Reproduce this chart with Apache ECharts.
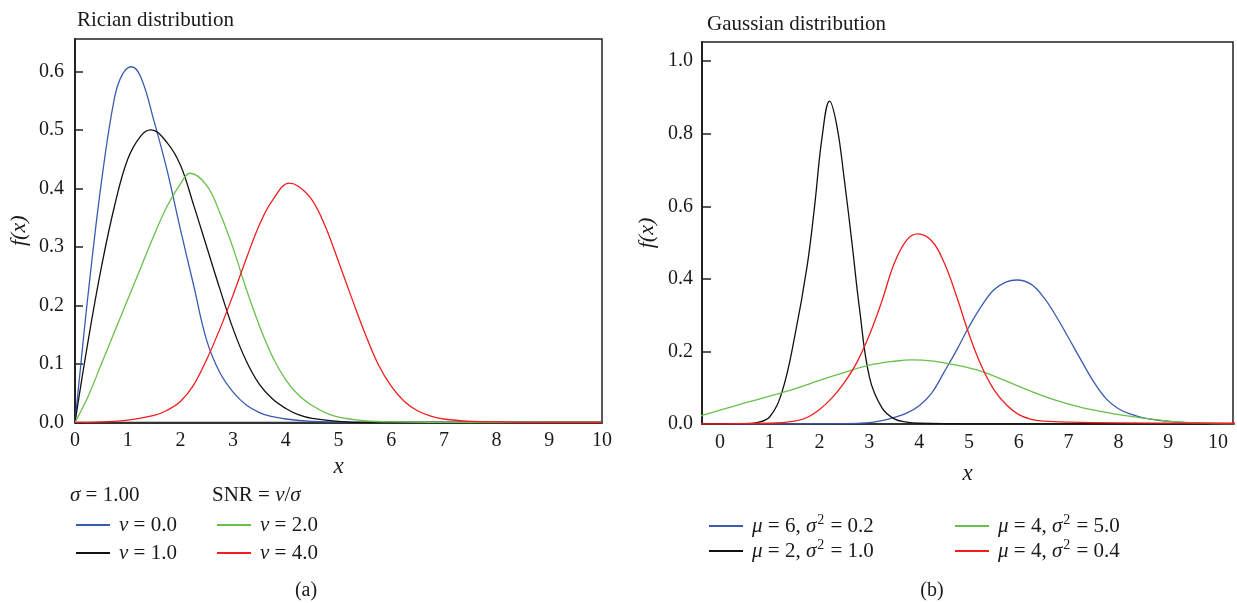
<!DOCTYPE html>
<html>
<head>
<meta charset="utf-8">
<title>Rician / Gaussian distribution</title>
<script src="https://cdn.jsdelivr.net/npm/echarts@6/dist/echarts.min.js"></script>
<style>
  html, body { margin: 0; padding: 0; background: #fff; }
  #chart { width: 1237px; height: 603px; }
</style>
</head>
<body>
<div id="chart"></div>
<script>
// ---- (a) Rician distribution, sigma = 1.00 ----
const ricNu0X = [0, 0.1, 0.25, 0.5, 0.75, 0.9, 1.07, 1.25, 1.5, 1.75, 2.0, 2.25, 2.5, 2.75, 3.0, 3.25, 3.5, 3.75, 4.0, 4.5, 5.0, 6.0, 10]
const ricNu0Y = [0, 0.09, 0.22, 0.41, 0.555, 0.595, 0.608, 0.59, 0.515, 0.43, 0.33, 0.235, 0.14, 0.085, 0.052, 0.03, 0.017, 0.01, 0.006, 0.002, 0.001, 0, 0]

const ricNu1X = [0, 0.25, 0.5, 0.75, 1.0, 1.25, 1.44, 1.75, 2.0, 2.25, 2.5, 2.75, 3.0, 3.25, 3.5, 3.75, 4.0, 4.25, 4.5, 5.0, 5.5, 10]
const ricNu1Y = [0, 0.14, 0.265, 0.37, 0.45, 0.49, 0.5, 0.478, 0.44, 0.372, 0.3, 0.228, 0.16, 0.105, 0.065, 0.04, 0.024, 0.013, 0.007, 0.002, 0, 0]

const ricNu2X = [0, 0.25, 0.5, 0.75, 1.0, 1.25, 1.5, 1.75, 2.0, 2.18, 2.5, 2.75, 3.0, 3.25, 3.5, 3.75, 4.0, 4.25, 4.5, 4.75, 5.0, 5.5, 6.0, 7.5, 10]
const ricNu2Y = [0, 0.045, 0.1, 0.155, 0.21, 0.265, 0.32, 0.37, 0.408, 0.426, 0.405, 0.358, 0.298, 0.228, 0.165, 0.112, 0.073, 0.046, 0.029, 0.017, 0.009, 0.003, 0.001, 0, 0]

const ricNu4X = [0, 0.5, 1.0, 1.5, 1.75, 2.0, 2.25, 2.5, 2.75, 3.0, 3.25, 3.5, 3.75, 4.07, 4.25, 4.5, 4.75, 5.0, 5.25, 5.5, 5.75, 6.0, 6.25, 6.5, 6.75, 7.0, 7.5, 8.0, 9.0, 10]
const ricNu4Y = [0, 0.001, 0.004, 0.012, 0.021, 0.036, 0.064, 0.108, 0.16, 0.218, 0.28, 0.338, 0.38, 0.409, 0.403, 0.38, 0.335, 0.275, 0.213, 0.153, 0.1, 0.062, 0.036, 0.02, 0.011, 0.006, 0.002, 0.001, 0, 0]

// ---- (b) Gaussian distribution ----
const gauM6X = [-0.5, 2.5, 3.0, 3.25, 3.5, 3.75, 4.0, 4.25, 4.5, 4.75, 5.0, 5.25, 5.5, 5.75, 5.96, 6.25, 6.5, 6.75, 7.0, 7.25, 7.5, 7.75, 8.0, 8.25, 8.5, 9.0, 9.5, 10.5]
const gauM6Y = [0, 0.001, 0.004, 0.009, 0.018, 0.03, 0.05, 0.085, 0.143, 0.203, 0.268, 0.325, 0.37, 0.392, 0.397, 0.385, 0.349, 0.297, 0.237, 0.176, 0.117, 0.07, 0.042, 0.027, 0.017, 0.007, 0.003, 0.001]

const gauM2X = [-0.5, 0.5, 0.75, 1.0, 1.25, 1.5, 1.75, 1.9, 2.05, 2.2, 2.35, 2.5, 2.65, 2.8, 3.0, 3.25, 3.5, 3.75, 4.0, 5.0, 10.5]
const gauM2Y = [0, 0.001, 0.004, 0.02, 0.09, 0.24, 0.435, 0.6, 0.79, 0.89, 0.82, 0.67, 0.5, 0.32, 0.13, 0.045, 0.014, 0.005, 0.002, 0, 0]

const gauM4WideX = [-0.5, 0, 0.5, 1.0, 1.5, 2.0, 2.5, 3.0, 3.5, 3.85, 4.25, 4.75, 5.25, 5.75, 6.25, 6.75, 7.25, 7.75, 8.25, 8.75, 9.25, 9.75, 10.5]
const gauM4WideY = [0.018, 0.038, 0.058, 0.077, 0.097, 0.12, 0.142, 0.162, 0.173, 0.177, 0.174, 0.162, 0.145, 0.118, 0.09, 0.065, 0.046, 0.032, 0.021, 0.012, 0.005, 0.002, 0]

const gauM4X = [-0.5, 1.0, 1.5, 1.75, 2.0, 2.25, 2.5, 2.75, 3.0, 3.25, 3.5, 3.75, 3.97, 4.25, 4.5, 4.75, 5.0, 5.25, 5.5, 5.75, 6.0, 6.25, 6.5, 7.0, 8.0, 10.5]
const gauM4Y = [0, 0.002, 0.008, 0.018, 0.04, 0.072, 0.115, 0.17, 0.245, 0.338, 0.443, 0.507, 0.524, 0.505, 0.445, 0.352, 0.248, 0.16, 0.095, 0.053, 0.026, 0.013, 0.008, 0.005, 0.003, 0.002]

// tick labels of the gaussian x axis (axis itself starts a bit left of 0)
const gauXTicks = [0, 1, 2, 3, 4, 5, 6, 7, 8, 9, 10]

const ricNames = ['ν = 0.0', 'ν = 1.0', 'ν = 2.0', 'ν = 4.0']
const gauNames = ['μ = 6, σ2 = 0.2', 'μ = 2, σ2 = 1.0', 'μ = 4, σ2 = 5.0', 'μ = 4, σ2 = 0.4']

const BLUE = '#3a5bb0'
const BLACK = '#111111'
const GREEN = '#6abf4b'
const RED = '#f21d1d'
const FONT = "'Liberation Serif', 'DejaVu Serif', serif"
const INK = '#1a1a1a'

function pairs(xs, ys) {
  return xs.map((x, i) => [x, ys[i]])
}

// italic greek letters and superscript 2 in legend / header text
const rich = {
  i: { fontStyle: 'italic', fontFamily: FONT, fontSize: 21, color: INK, lineHeight: 26 },
  sup: { fontFamily: FONT, fontSize: 14, color: INK, verticalAlign: 'top', lineHeight: 26, padding: [0, 1, 0, 1] }
}
function mathText(s) {
  return s.replace(/([νμσ])/g, '{i|$1}').replace(/σ\}2/g, 'σ}{sup|2}')
}

function lineSeries(name, xi, xs, ys, color) {
  return {
    name: name,
    type: 'line',
    xAxisIndex: xi,
    yAxisIndex: xi,
    data: pairs(xs, ys),
    showSymbol: false,
    smooth: 0.4,
    lineStyle: { color: color, width: 1.3 },
    itemStyle: { color: color }
  }
}

function legendItem(name, left, top) {
  return {
    data: [name],
    left: left,
    top: top,
    icon: 'rect',
    itemWidth: 34,
    itemHeight: 2,
    selectedMode: false,
    formatter: mathText,
    textStyle: {
      fontFamily: FONT,
      fontSize: 21,
      color: INK,
      lineHeight: 26,
      padding: [0, 0, 0, 4],
      rich: rich
    }
  }
}

const axisText = { fontFamily: FONT, fontSize: 20, color: INK }

const chart = echarts.init(document.getElementById('chart'))

const option = {
  animation: false,
  backgroundColor: '#fff',
  grid: [
    { left: 75, right: 1237 - 602, top: 39, bottom: 603 - 422.5, show: true, borderColor: '#222', borderWidth: 1.5 },
    { left: 702, right: 4, top: 42, bottom: 603 - 424, show: true, borderColor: '#222', borderWidth: 1.5 }
  ],
  xAxis: [
    {
      type: 'value',
      gridIndex: 0,
      min: 0,
      max: 10,
      interval: 1,
      name: 'x',
      nameLocation: 'middle',
      nameGap: 33,
      nameTextStyle: { fontFamily: FONT, fontSize: 23, fontStyle: 'italic', color: INK },
      axisLine: { show: true, onZero: false, lineStyle: { color: '#333', width: 2 } },
      axisTick: { show: false },
      axisLabel: Object.assign({ margin: 8 }, axisText),
      splitLine: { show: false }
    },
    {
      type: 'value',
      gridIndex: 1,
      min: -0.36,
      max: 10.3,
      name: 'x',
      nameLocation: 'middle',
      nameGap: 38,
      nameTextStyle: { fontFamily: FONT, fontSize: 23, fontStyle: 'italic', color: INK },
      axisLine: { show: true, onZero: false, lineStyle: { color: '#333', width: 2 } },
      axisTick: { show: false },
      axisLabel: Object.assign({ margin: 9, customValues: gauXTicks }, axisText),
      splitLine: { show: false }
    }
  ],
  yAxis: [
    {
      type: 'value',
      gridIndex: 0,
      min: 0,
      max: 0.6554,
      interval: 0.1,
      name: 'f(x)',
      nameLocation: 'middle',
      nameGap: 45,
      nameTextStyle: { fontFamily: FONT, fontSize: 22, fontStyle: 'italic', color: INK },
      axisLine: { show: true, onZero: false, lineStyle: { color: '#222', width: 2 } },
      axisTick: { show: true, inside: true, length: 8, lineStyle: { color: '#222', width: 1.5 } },
      axisLabel: Object.assign({ margin: 11, showMaxLabel: false, formatter: v => v.toFixed(1) }, axisText),
      splitLine: { show: false }
    },
    {
      type: 'value',
      gridIndex: 1,
      min: 0,
      max: 1.053,
      interval: 0.2,
      name: 'f(x)',
      nameLocation: 'middle',
      nameGap: 44,
      nameTextStyle: { fontFamily: FONT, fontSize: 22, fontStyle: 'italic', color: INK },
      axisLine: { show: true, onZero: false, lineStyle: { color: '#222', width: 2 } },
      axisTick: { show: true, inside: true, length: 9, lineStyle: { color: '#222', width: 1.5 } },
      axisLabel: Object.assign({ margin: 9, showMaxLabel: false, formatter: v => v.toFixed(1) }, axisText),
      splitLine: { show: false }
    }
  ],
  legend: [
    legendItem(ricNames[0], 71, 507),
    legendItem(ricNames[1], 71, 535),
    legendItem(ricNames[2], 212, 507),
    legendItem(ricNames[3], 212, 535),
    legendItem(gauNames[0], 704, 508),
    legendItem(gauNames[1], 704, 533),
    legendItem(gauNames[2], 950, 508),
    legendItem(gauNames[3], 950, 533)
  ],
  graphic: [
    { type: 'text', left: 77, top: 10, style: { text: 'Rician distribution', font: '21px ' + FONT, fill: INK } },
    { type: 'text', left: 707, top: 14, style: { text: 'Gaussian distribution', font: '21px ' + FONT, fill: INK } },
    { type: 'text', left: 70, top: 485, style: { text: mathText('σ = 1.00'), rich: rich, font: '21px ' + FONT, fill: INK } },
    { type: 'text', left: 212, top: 485, style: { text: 'SNR = ' + mathText('ν') + '/' + mathText('σ'), rich: rich, font: '21px ' + FONT, fill: INK } },
    { type: 'text', x: 306, y: 591, style: { text: '(a)', font: '20px ' + FONT, fill: INK, align: 'center', verticalAlign: 'middle' } },
    { type: 'text', x: 932, y: 591, style: { text: '(b)', font: '20px ' + FONT, fill: INK, align: 'center', verticalAlign: 'middle' } }
  ],
  series: [
    lineSeries(ricNames[0], 0, ricNu0X, ricNu0Y, BLUE),
    lineSeries(ricNames[1], 0, ricNu1X, ricNu1Y, BLACK),
    lineSeries(ricNames[2], 0, ricNu2X, ricNu2Y, GREEN),
    lineSeries(ricNames[3], 0, ricNu4X, ricNu4Y, RED),
    lineSeries(gauNames[0], 1, gauM6X, gauM6Y, BLUE),
    lineSeries(gauNames[1], 1, gauM2X, gauM2Y, BLACK),
    lineSeries(gauNames[2], 1, gauM4WideX, gauM4WideY, GREEN),
    lineSeries(gauNames[3], 1, gauM4X, gauM4Y, RED)
  ]
}

chart.setOption(option)
window.addEventListener('resize', function() {
  chart.resize()
})
</script>
</body>
</html>
